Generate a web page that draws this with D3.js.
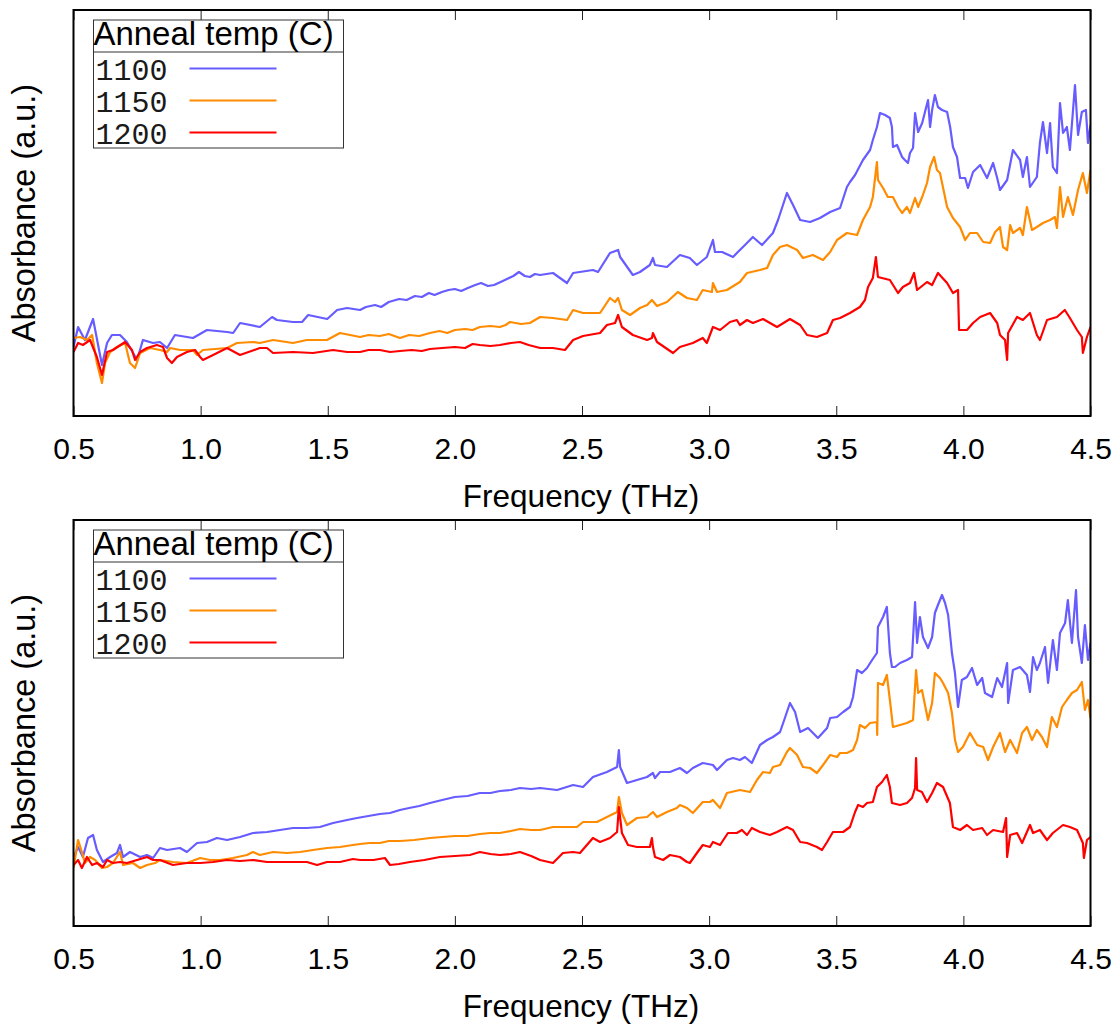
<!DOCTYPE html>
<html>
<head>
<meta charset="utf-8">
<script src="https://cdn.jsdelivr.net/npm/d3@7"></script>
<style>
  body { margin: 0; background: #fff; }
  svg text { font-family: "Liberation Sans", Arial, sans-serif; fill: #000; }
</style>
</head>
<body>
<div id="chart"></div>
<script>
// x ticks (THz)
const freqTicks = [0.5, 1.0, 1.5, 2.0, 2.5, 3.0, 3.5, 4.0, 4.5];
const anneals = ["1100", "1150", "1200"];
const colours = ["#665cff", "#ff8c00", "#ff0000"];

// absorbance in arbitrary units: [frequency THz, a.u.]
// upper panel
const top1100 = [[0.500,69],[0.518,89],[0.545,76],[0.577,97],[0.612,51],[0.632,73],[0.651,81],[0.683,81],[0.710,74],[0.750,56],[0.773,76],[0.813,73],[0.840,74],[0.868,68],[0.899,81],[0.970,78],[1.025,86],[1.104,84],[1.128,83],[1.155,93],[1.233,89],[1.281,99],[1.300,96],[1.363,94],[1.399,94],[1.423,101],[1.498,97],[1.537,106],[1.576,108],[1.627,106],[1.650,109],[1.686,111],[1.710,109],[1.740,114],[1.781,117],[1.810,116],[1.843,120],[1.870,119],[1.898,123],[1.920,121],[1.949,124],[1.975,126],[2.000,127],[2.025,125],[2.051,128],[2.080,131],[2.103,133],[2.130,130],[2.154,131],[2.180,134],[2.205,137],[2.230,140],[2.252,144],[2.275,140],[2.295,139],[2.315,142],[2.335,141],[2.386,143],[2.441,133],[2.465,143],[2.543,146],[2.563,144],[2.610,163],[2.642,166],[2.650,159],[2.700,141],[2.728,144],[2.767,151],[2.779,158],[2.787,151],[2.834,149],[2.885,161],[2.924,158],[2.952,151],[2.991,159],[3.015,176],[3.023,164],[3.051,164],[3.094,159],[3.113,164],[3.141,171],[3.172,179],[3.208,171],[3.251,183],[3.271,196],[3.306,223],[3.330,211],[3.358,196],[3.397,194],[3.436,198],[3.476,204],[3.515,208],[3.542,229],[3.554,234],[3.574,241],[3.605,256],[3.633,266],[3.644,276],[3.660,289],[3.672,303],[3.692,301],[3.711,298],[3.719,289],[3.723,269],[3.739,271],[3.759,259],[3.770,256],[3.782,253],[3.790,263],[3.802,268],[3.810,303],[3.822,284],[3.838,293],[3.861,316],[3.869,289],[3.877,306],[3.888,321],[3.900,309],[3.916,306],[3.936,304],[3.948,289],[3.959,269],[3.975,259],[3.987,238],[4.007,238],[4.018,228],[4.038,244],[4.066,251],[4.093,238],[4.117,253],[4.133,238],[4.144,226],[4.172,236],[4.195,266],[4.223,256],[4.234,239],[4.250,259],[4.262,229],[4.289,239],[4.301,273],[4.313,294],[4.329,263],[4.341,293],[4.352,249],[4.368,243],[4.380,313],[4.392,283],[4.407,289],[4.419,266],[4.439,331],[4.451,281],[4.466,304],[4.482,306],[4.490,273],[4.500,291]];
const top1150 = [[0.500,78],[0.526,79],[0.553,76],[0.573,81],[0.592,53],[0.612,33],[0.624,53],[0.644,64],[0.671,69],[0.703,73],[0.722,53],[0.742,48],[0.762,63],[0.801,68],[0.840,66],[0.868,64],[0.880,68],[0.919,66],[0.970,66],[0.986,61],[1.009,66],[1.104,68],[1.143,73],[1.206,74],[1.233,73],[1.285,76],[1.363,73],[1.418,76],[1.497,76],[1.548,83],[1.627,79],[1.660,81],[1.705,80],[1.740,82],[1.784,78],[1.820,81],[1.860,80],[1.902,83],[1.940,85],[1.970,83],[2.000,86],[2.040,87],[2.070,86],[2.098,89],[2.140,90],[2.177,89],[2.200,91],[2.217,94],[2.260,92],[2.295,93],[2.335,99],[2.386,98],[2.441,96],[2.465,106],[2.504,103],[2.571,103],[2.610,118],[2.630,114],[2.642,118],[2.657,106],[2.689,101],[2.728,108],[2.756,111],[2.775,116],[2.795,110],[2.834,114],[2.877,124],[2.913,118],[2.952,116],[2.975,126],[3.011,124],[3.015,133],[3.031,124],[3.070,126],[3.121,134],[3.149,143],[3.200,146],[3.228,148],[3.251,161],[3.279,169],[3.306,171],[3.346,166],[3.369,158],[3.408,161],[3.448,156],[3.476,164],[3.503,176],[3.542,183],[3.582,181],[3.605,196],[3.633,209],[3.644,219],[3.660,254],[3.664,236],[3.684,228],[3.703,219],[3.723,219],[3.743,209],[3.759,203],[3.778,209],[3.790,203],[3.810,218],[3.822,209],[3.838,219],[3.857,233],[3.869,249],[3.885,259],[3.896,246],[3.908,243],[3.936,209],[3.959,198],[3.987,189],[4.007,176],[4.026,183],[4.054,183],[4.078,174],[4.105,173],[4.125,184],[4.144,189],[4.156,169],[4.172,166],[4.184,191],[4.195,183],[4.223,188],[4.234,181],[4.250,209],[4.270,186],[4.289,189],[4.313,193],[4.341,196],[4.360,199],[4.368,188],[4.380,229],[4.392,199],[4.411,219],[4.431,201],[4.451,226],[4.470,243],[4.486,223],[4.500,246]];
const top1200 = [[0.500,64],[0.518,73],[0.537,71],[0.565,76],[0.592,59],[0.612,41],[0.632,64],[0.655,66],[0.703,74],[0.730,66],[0.742,56],[0.762,64],[0.789,68],[0.828,71],[0.852,69],[0.868,58],[0.887,53],[0.907,59],[0.946,64],[0.978,66],[0.998,59],[1.009,56],[1.049,61],[1.104,68],[1.155,61],[1.233,68],[1.261,68],[1.285,63],[1.363,64],[1.442,63],[1.521,66],[1.576,64],[1.627,64],[1.660,66],[1.705,66],[1.745,64],[1.784,65],[1.830,66],[1.870,65],[1.902,67],[1.950,68],[2.000,69],[2.040,68],[2.070,72],[2.098,71],[2.140,70],[2.177,71],[2.220,73],[2.256,74],[2.290,71],[2.335,68],[2.386,68],[2.433,66],[2.465,76],[2.504,80],[2.571,83],[2.598,91],[2.630,93],[2.642,101],[2.657,89],[2.700,81],[2.756,76],[2.775,78],[2.779,83],[2.795,74],[2.858,63],[2.885,69],[2.936,73],[2.975,78],[2.991,73],[3.015,89],[3.043,86],[3.082,94],[3.109,96],[3.121,91],[3.149,96],[3.172,93],[3.212,97],[3.267,89],[3.318,97],[3.358,91],[3.385,81],[3.424,79],[3.464,83],[3.487,96],[3.515,98],[3.554,103],[3.593,109],[3.613,116],[3.625,129],[3.644,138],[3.656,159],[3.664,139],[3.711,136],[3.743,123],[3.762,129],[3.790,133],[3.806,143],[3.818,126],[3.857,134],[3.877,131],[3.900,143],[3.936,133],[3.959,123],[3.979,126],[3.983,86],[4.014,86],[4.038,93],[4.066,99],[4.105,103],[4.133,93],[4.144,81],[4.164,76],[4.172,56],[4.176,83],[4.211,99],[4.234,96],[4.262,103],[4.289,81],[4.301,76],[4.329,96],[4.368,99],[4.399,106],[4.419,98],[4.447,86],[4.466,79],[4.470,63],[4.486,79],[4.500,89]];

// lower panel
const bottom1100 = [[0.500,69],[0.518,79],[0.537,69],[0.557,88],[0.577,91],[0.592,76],[0.616,64],[0.644,69],[0.671,73],[0.683,81],[0.695,69],[0.722,74],[0.762,69],[0.789,71],[0.813,68],[0.840,78],[0.868,76],[0.919,78],[0.946,74],[0.986,83],[1.025,84],[1.064,88],[1.104,86],[1.155,89],[1.206,93],[1.261,94],[1.312,96],[1.363,98],[1.418,98],[1.469,99],[1.521,103],[1.576,106],[1.615,108],[1.660,110],[1.705,112],[1.745,113],[1.784,116],[1.820,118],[1.860,120],[1.902,123],[1.950,126],[2.000,129],[2.050,130],[2.098,133],[2.140,133],[2.177,135],[2.220,136],[2.256,138],[2.300,137],[2.335,138],[2.402,136],[2.465,141],[2.504,139],[2.543,149],[2.598,154],[2.638,159],[2.645,176],[2.650,159],[2.677,143],[2.716,146],[2.756,149],[2.779,153],[2.787,148],[2.807,154],[2.846,154],[2.885,158],[2.913,153],[2.936,158],[2.975,163],[3.015,161],[3.031,156],[3.070,166],[3.094,168],[3.121,166],[3.141,169],[3.168,163],[3.200,181],[3.228,186],[3.251,189],[3.279,194],[3.298,208],[3.318,223],[3.338,214],[3.358,194],[3.389,198],[3.428,188],[3.464,198],[3.476,208],[3.503,209],[3.527,214],[3.554,219],[3.566,229],[3.582,256],[3.601,253],[3.621,258],[3.641,266],[3.660,273],[3.664,299],[3.684,309],[3.699,319],[3.711,273],[3.719,259],[3.731,259],[3.751,263],[3.778,266],[3.798,269],[3.810,324],[3.818,283],[3.829,309],[3.841,289],[3.861,278],[3.877,289],[3.888,313],[3.900,321],[3.916,331],[3.928,323],[3.940,311],[3.955,273],[3.967,253],[3.979,219],[3.994,246],[4.014,249],[4.034,258],[4.054,241],[4.074,248],[4.085,233],[4.113,229],[4.133,248],[4.152,239],[4.172,263],[4.176,223],[4.195,256],[4.223,259],[4.250,251],[4.262,234],[4.274,269],[4.289,256],[4.301,263],[4.321,279],[4.333,243],[4.352,286],[4.368,256],[4.380,293],[4.400,303],[4.411,326],[4.427,283],[4.443,336],[4.451,289],[4.466,263],[4.478,301],[4.490,266],[4.500,283]];
const bottom1150 = [[0.500,58],[0.518,86],[0.533,74],[0.545,63],[0.565,69],[0.585,66],[0.612,58],[0.632,59],[0.655,63],[0.683,74],[0.695,61],[0.734,63],[0.762,58],[0.789,61],[0.821,63],[0.840,66],[0.891,64],[0.946,63],[0.998,68],[1.037,66],[1.076,66],[1.127,68],[1.182,71],[1.206,74],[1.233,71],[1.285,74],[1.340,73],[1.391,74],[1.442,76],[1.497,78],[1.548,79],[1.599,81],[1.627,82],[1.665,83],[1.705,83],[1.740,85],[1.784,85],[1.840,86],[1.902,88],[1.950,89],[2.000,90],[2.050,90],[2.098,92],[2.140,93],[2.177,93],[2.220,95],[2.256,97],[2.300,96],[2.335,96],[2.386,99],[2.441,99],[2.480,99],[2.504,104],[2.559,104],[2.598,109],[2.638,114],[2.645,129],[2.657,113],[2.677,101],[2.716,108],[2.756,109],[2.779,114],[2.795,109],[2.834,114],[2.873,118],[2.885,121],[2.913,118],[2.936,113],[2.975,124],[3.003,124],[3.015,126],[3.043,118],[3.070,133],[3.121,136],[3.161,134],[3.188,146],[3.212,154],[3.239,153],[3.251,159],[3.279,161],[3.306,174],[3.318,178],[3.346,171],[3.369,159],[3.397,158],[3.424,153],[3.448,161],[3.476,171],[3.503,169],[3.515,173],[3.542,173],[3.566,176],[3.582,186],[3.593,201],[3.613,198],[3.633,203],[3.660,204],[3.661,191],[3.664,243],[3.684,241],[3.699,251],[3.711,226],[3.723,199],[3.751,201],[3.778,203],[3.802,206],[3.814,256],[3.822,233],[3.837,236],[3.861,206],[3.877,223],[3.888,253],[3.908,248],[3.920,243],[3.940,233],[3.955,213],[3.967,186],[3.979,174],[3.998,179],[4.026,193],[4.054,181],[4.078,179],[4.097,166],[4.117,179],[4.144,193],[4.164,174],[4.184,186],[4.211,173],[4.231,193],[4.250,199],[4.270,186],[4.289,196],[4.309,189],[4.329,179],[4.348,209],[4.368,199],[4.388,219],[4.407,226],[4.427,233],[4.447,236],[4.466,244],[4.478,216],[4.490,226],[4.500,208]];
const bottom1200 = [[0.500,61],[0.518,66],[0.533,58],[0.553,69],[0.573,61],[0.592,63],[0.616,59],[0.632,66],[0.655,63],[0.683,64],[0.710,63],[0.750,66],[0.789,69],[0.813,66],[0.840,66],[0.891,61],[0.946,63],[0.998,63],[1.049,64],[1.104,66],[1.155,65],[1.206,66],[1.261,64],[1.312,64],[1.363,64],[1.418,64],[1.458,61],[1.497,64],[1.548,64],[1.599,67],[1.627,66],[1.680,66],[1.725,68],[1.745,61],[1.780,62],[1.823,64],[1.880,66],[1.941,69],[2.000,70],[2.059,71],[2.098,74],[2.140,72],[2.177,71],[2.220,72],[2.256,74],[2.300,70],[2.335,66],[2.386,63],[2.425,73],[2.465,74],[2.492,73],[2.543,88],[2.571,84],[2.610,88],[2.638,94],[2.645,119],[2.657,93],[2.681,81],[2.716,79],[2.767,79],[2.775,88],[2.779,79],[2.787,69],[2.819,66],[2.846,71],[2.885,69],[2.913,64],[2.924,63],[2.952,73],[2.975,81],[3.003,79],[3.015,84],[3.043,81],[3.074,93],[3.109,93],[3.129,96],[3.149,91],[3.168,98],[3.200,94],[3.239,91],[3.267,94],[3.306,99],[3.330,96],[3.358,84],[3.385,83],[3.424,79],[3.444,76],[3.464,84],[3.487,94],[3.527,94],[3.554,99],[3.574,114],[3.586,121],[3.605,119],[3.621,123],[3.644,124],[3.660,139],[3.680,144],[3.699,151],[3.711,139],[3.719,123],[3.751,121],[3.778,123],[3.798,128],[3.810,138],[3.814,168],[3.818,136],[3.837,134],[3.857,124],[3.877,133],[3.896,143],[3.920,139],[3.947,123],[3.959,99],[3.987,96],[4.014,101],[4.038,96],[4.074,98],[4.093,91],[4.117,96],[4.156,94],[4.168,108],[4.172,69],[4.184,91],[4.211,93],[4.231,83],[4.262,101],[4.274,93],[4.301,96],[4.329,86],[4.352,93],[4.392,101],[4.419,99],[4.447,96],[4.470,83],[4.474,68],[4.486,86],[4.500,89]];

const width = 1117;
const height = 1024;
const left = 73.5, right = 1090.5;
const panelH = 406;

const svg = d3.select("#chart")
    .append("svg")
    .attr("width", width)
    .attr("height", height);

const x = d3.scaleLinear().domain([0.5, 4.5]).range([left, right]);

function drawPanel(top, series, id) {
    const bottom = top + panelH;
    const y = d3.scaleLinear().domain([0, 406]).range([bottom, top]);
    const g = svg.append("g");

    g.append("clipPath").attr("id", "clip" + id)
        .append("rect")
        .attr("x", left).attr("y", top)
        .attr("width", right - left).attr("height", panelH);

    // inward ticks, bottom and mirrored on top
    const axB = g.append("g")
        .attr("transform", `translate(0,${bottom})`)
        .call(d3.axisBottom(x).tickValues(freqTicks).tickFormat(d3.format(".1f"))
            .tickSizeInner(-10).tickSizeOuter(0).tickPadding(22));
    axB.select(".domain").remove();
    axB.selectAll("line").attr("stroke", "#222");
    axB.selectAll("text")
        .style("font-size", "30px")
        .style("font-family", "Liberation Sans, Arial, sans-serif");

    const axT = g.append("g")
        .attr("transform", `translate(0,${top})`)
        .call(d3.axisTop(x).tickValues(freqTicks).tickFormat("")
            .tickSizeInner(-10).tickSizeOuter(0));
    axT.select(".domain").remove();
    axT.selectAll("line").attr("stroke", "#222");

    const line = d3.line()
        .x(d => x(d[0]))
        .y(d => y(d[1]));

    series.forEach((s, i) => {
        g.append("path")
            .datum(s)
            .attr("clip-path", `url(#clip${id})`)
            .attr("fill", "none")
            .attr("stroke", colours[i])
            .attr("stroke-width", 2.2)
            .attr("stroke-linejoin", "round")
            .attr("d", line);
    });

    // frame
    g.append("rect")
        .attr("x", left).attr("y", top)
        .attr("width", right - left).attr("height", panelH)
        .attr("fill", "none")
        .attr("stroke", "#000")
        .attr("stroke-width", 2);

    // axis titles
    g.append("text")
        .attr("x", 581)
        .attr("y", bottom + 91)
        .attr("text-anchor", "middle")
        .style("font-size", "31.5px")
        .text("Frequency (THz)");

    g.append("text")
        .attr("transform", `translate(35,${top + 203}) rotate(-90)`)
        .attr("text-anchor", "middle")
        .style("font-size", "32.5px")
        .text("Absorbance (a.u.)");

    // legend
    const lg = g.append("g").attr("transform", `translate(93.5,${top + 10})`);
    lg.append("rect")
        .attr("width", 250).attr("height", 128)
        .attr("fill", "#fff")
        .attr("stroke", "#333")
        .attr("stroke-width", 1);
    lg.append("line")
        .attr("x1", 0).attr("x2", 250)
        .attr("y1", 32).attr("y2", 32)
        .attr("stroke", "#333");
    lg.append("text")
        .attr("x", 120).attr("y", 25)
        .attr("text-anchor", "middle")
        .style("font-size", "33px")
        .text("Anneal temp (C)");
    anneals.forEach((a, i) => {
        lg.append("text")
            .attr("x", 2).attr("y", 60 + i * 32)
            .style("font-family", "Liberation Mono, Courier New, monospace")
            .style("font-size", "30px")
            .style("fill", "#1a1a1a")
            .text(a);
        lg.append("line")
            .attr("x1", 96).attr("x2", 183)
            .attr("y1", 48.5 + i * 32).attr("y2", 48.5 + i * 32)
            .attr("stroke", colours[i])
            .attr("stroke-width", 2.2);
    });
}

drawPanel(10, [top1100, top1150, top1200], "a");
drawPanel(520, [bottom1100, bottom1150, bottom1200], "b");
</script>
</body>
</html>
